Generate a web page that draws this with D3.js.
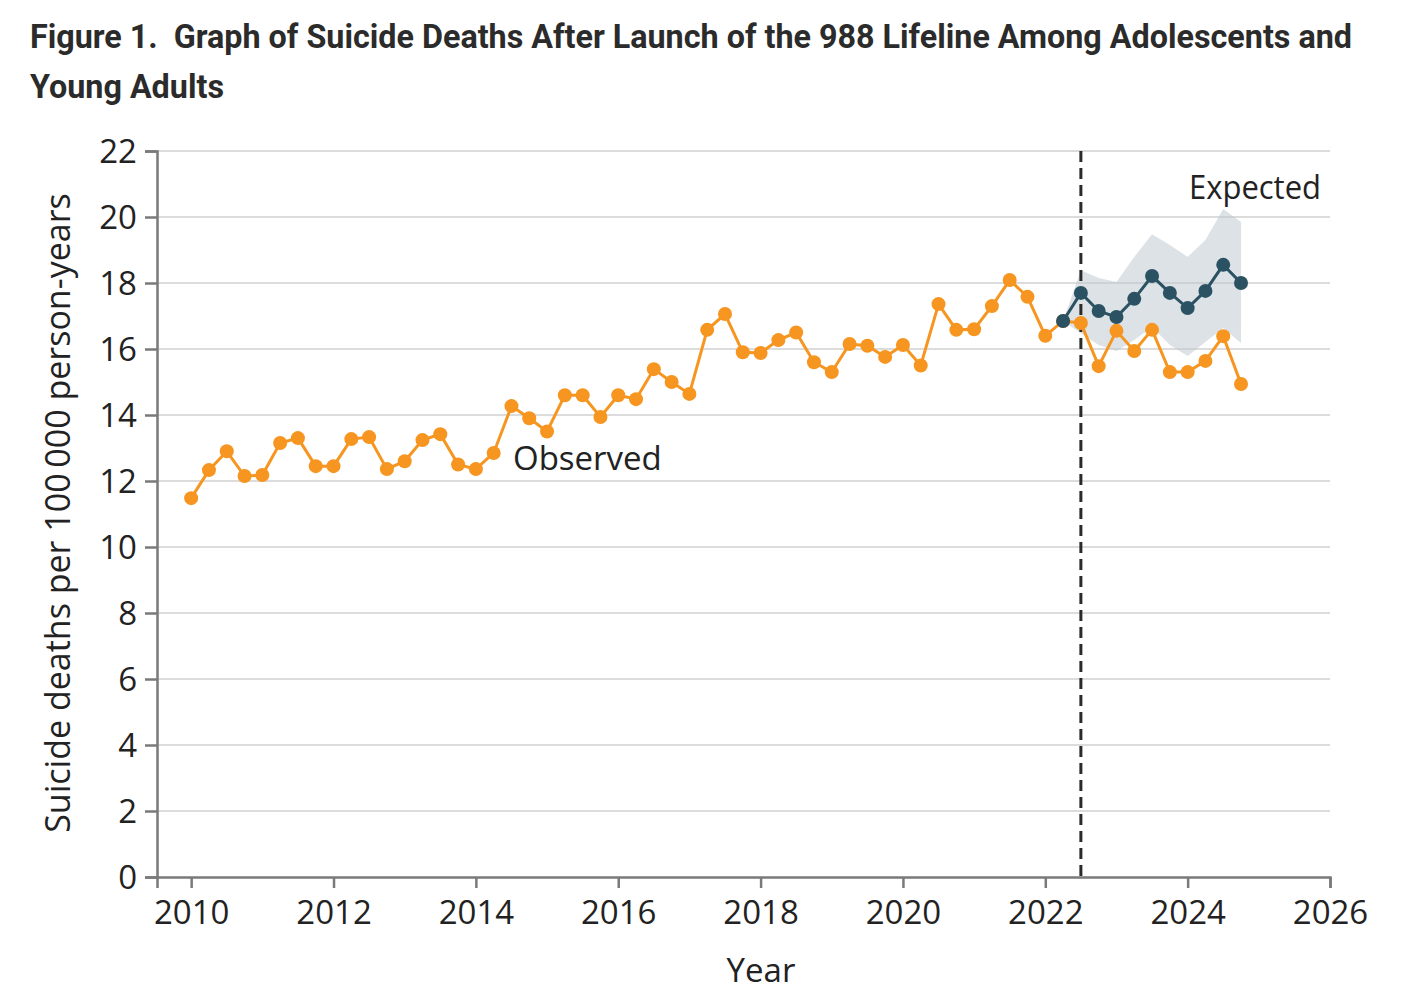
<!DOCTYPE html>
<meta charset="utf-8">
<title>Suicide deaths after 988 launch</title>
<style>
body { margin: 0; background: #fff; }
svg text { fill: #222; }
</style>
<script src="https://d3js.org/d3.v7.min.js"></script>
<div id="chart"></div>
<script>

var width = 1424,
    height = 1006;

// quarterly time points (2010 Q1 .. 2024 Q4)
var obsTime = [2010, 2010.25, 2010.5, 2010.75, 2011, 2011.25, 2011.5, 2011.75,
  2012, 2012.25, 2012.5, 2012.75, 2013, 2013.25, 2013.5, 2013.75,
  2014, 2014.25, 2014.5, 2014.75, 2015, 2015.25, 2015.5, 2015.75,
  2016, 2016.25, 2016.5, 2016.75, 2017, 2017.25, 2017.5, 2017.75,
  2018, 2018.25, 2018.5, 2018.75, 2019, 2019.25, 2019.5, 2019.75,
  2020, 2020.25, 2020.5, 2020.75, 2021, 2021.25, 2021.5, 2021.75,
  2022, 2022.25, 2022.5, 2022.75, 2023, 2023.25, 2023.5, 2023.75,
  2024, 2024.25, 2024.5, 2024.75];

var observed = [11.48, 12.33, 12.9, 12.15, 12.18, 13.15, 13.3, 12.45,
  12.45, 13.27, 13.33, 12.36, 12.6, 13.24, 13.42, 12.5,
  12.36, 12.85, 14.27, 13.9, 13.5, 14.6, 14.6, 13.94,
  14.6, 14.48, 15.39, 15.0, 14.64, 16.58, 17.06, 15.9,
  15.88, 16.27, 16.5, 15.6, 15.3, 16.15, 16.1, 15.76,
  16.12, 15.5, 17.36, 16.58, 16.6, 17.3, 18.09, 17.58,
  16.4, 16.85, 16.79, 15.48, 16.55, 15.94, 16.58, 15.3,
  15.3, 15.64, 16.39, 14.94];

var expTime = [2022.25, 2022.5, 2022.75, 2023, 2023.25, 2023.5, 2023.75,
  2024, 2024.25, 2024.5, 2024.75];
var expected = [16.85, 17.7, 17.15, 16.97, 17.52, 18.21, 17.7, 17.24, 17.76, 18.55, 18.0];
var expUpper = [16.85, 18.39, 18.15, 18.03, 18.79, 19.48, 19.15, 18.79, 19.3, 20.24, 19.85];
var expLower = [16.85, 16.48, 16.12, 15.94, 16.27, 16.67, 16.12, 15.79, 16.21, 16.64, 16.18];

var launch = 2022.5;
var xTicks = [2010, 2012, 2014, 2016, 2018, 2020, 2022, 2024, 2026];
var yTicks = [0, 2, 4, 6, 8, 10, 12, 14, 16, 18, 20, 22];

var orange = "#f6951f",
    teal = "#2b5263",
    font = "'Open Sans', 'Noto Sans', sans-serif";

var svg = d3.select("#chart").append("svg")
    .attr("width", width)
    .attr("height", height);

var x = d3.scaleLinear().domain([2009.52, 2026]).range([157, 1330]);
var y = d3.scaleLinear().domain([0, 22]).range([877, 151]);

// title
var title = svg.append("g")
    .style("font-family", "Roboto, 'Open Sans', sans-serif")
    .style("font-weight", "bold");
title.append("text")
    .attr("x", 30).attr("y", 48)
    .attr("font-size", 34)
    .attr("textLength", 1322)
    .attr("lengthAdjust", "spacingAndGlyphs")
    .style("fill", "#2b2b2b")
    .text("Figure 1.\u00a0 Graph of Suicide Deaths After Launch of the 988 Lifeline Among Adolescents and");
title.append("text")
    .attr("x", 30).attr("y", 98)
    .attr("font-size", 34)
    .attr("textLength", 194)
    .attr("lengthAdjust", "spacingAndGlyphs")
    .style("fill", "#2b2b2b")
    .text("Young Adults");

// gridlines
svg.append("g")
  .selectAll("line")
  .data(yTicks.filter(function (d) { return d > 0; }))
  .enter().append("line")
    .attr("x1", x.range()[0])
    .attr("x2", x.range()[1])
    .attr("y1", function (d) { return y(d); })
    .attr("y2", function (d) { return y(d); })
    .attr("stroke", "#dcdcdc")
    .attr("stroke-width", 2);

// expected confidence band
var band = d3.area()
    .x(function (d, i) { return x(expTime[i]); })
    .y0(function (d, i) { return y(expLower[i]); })
    .y1(function (d, i) { return y(expUpper[i]); });

svg.append("path")
    .datum(expTime)
    .attr("d", band)
    .attr("fill", "#b9c6cd")
    .attr("fill-opacity", 0.5);

// axes
var xAxis = svg.append("g")
    .attr("transform", "translate(0," + y(0) + ")")
    .call(d3.axisBottom(x).tickValues(xTicks).tickFormat(d3.format("d")).tickSize(11).tickPadding(13));

var yAxis = svg.append("g")
    .attr("transform", "translate(" + x.range()[0] + ",0)")
    .call(d3.axisLeft(y).tickValues(yTicks).tickSize(12).tickPadding(8));

[xAxis, yAxis].forEach(function (a) {
  a.select(".domain").attr("stroke", "#7a7a7a").attr("stroke-width", 2.5);
  a.selectAll(".tick line").attr("stroke", "#7a7a7a").attr("stroke-width", 2.5);
  a.selectAll(".tick text")
      .style("font-family", font)
      .attr("font-size", 33)
      .style("fill", "#222");
});
yAxis.selectAll(".tick text").attr("dy", "0.36em");

// launch of 988
svg.append("line")
    .attr("x1", x(launch)).attr("x2", x(launch))
    .attr("y1", y(22)).attr("y2", y(0))
    .attr("stroke", "#2a2a2a")
    .attr("stroke-width", 3)
    .attr("stroke-dasharray", "11,6");

// observed
var line = d3.line()
    .x(function (d) { return x(d[0]); })
    .y(function (d) { return y(d[1]); });

var obsData = d3.zip(obsTime, observed),
    expData = d3.zip(expTime, expected);

svg.append("path")
    .datum(obsData)
    .attr("d", line)
    .attr("fill", "none")
    .attr("stroke", orange)
    .attr("stroke-width", 3);

svg.append("g")
  .selectAll("circle")
  .data(obsData)
  .enter().append("circle")
    .attr("cx", function (d) { return x(d[0]); })
    .attr("cy", function (d) { return y(d[1]); })
    .attr("r", 7)
    .attr("fill", orange);

// expected
svg.append("path")
    .datum(expData)
    .attr("d", line)
    .attr("fill", "none")
    .attr("stroke", teal)
    .attr("stroke-width", 3);

svg.append("g")
  .selectAll("circle")
  .data(expData)
  .enter().append("circle")
    .attr("cx", function (d) { return x(d[0]); })
    .attr("cy", function (d) { return y(d[1]); })
    .attr("r", 7)
    .attr("fill", teal);

// series labels
svg.append("text")
    .attr("x", 513).attr("y", 470)
    .attr("font-size", 33)
    .style("font-family", font)
    .text("Observed");

svg.append("text")
    .attr("x", 1189).attr("y", 199)
    .attr("font-size", 33)
    .attr("textLength", 132)
    .attr("lengthAdjust", "spacingAndGlyphs")
    .style("font-family", font)
    .text("Expected");

// axis titles
svg.append("text")
    .attr("x", 761).attr("y", 982)
    .attr("text-anchor", "middle")
    .attr("font-size", 33)
    .style("font-family", font)
    .text("Year");

svg.append("text")
    .attr("transform", "translate(70," + 513 + ") rotate(-90)")
    .attr("text-anchor", "middle")
    .attr("font-size", 34)
    .style("font-family", font)
    .text("Suicide deaths per 100\u2009000 person-years");

</script>
